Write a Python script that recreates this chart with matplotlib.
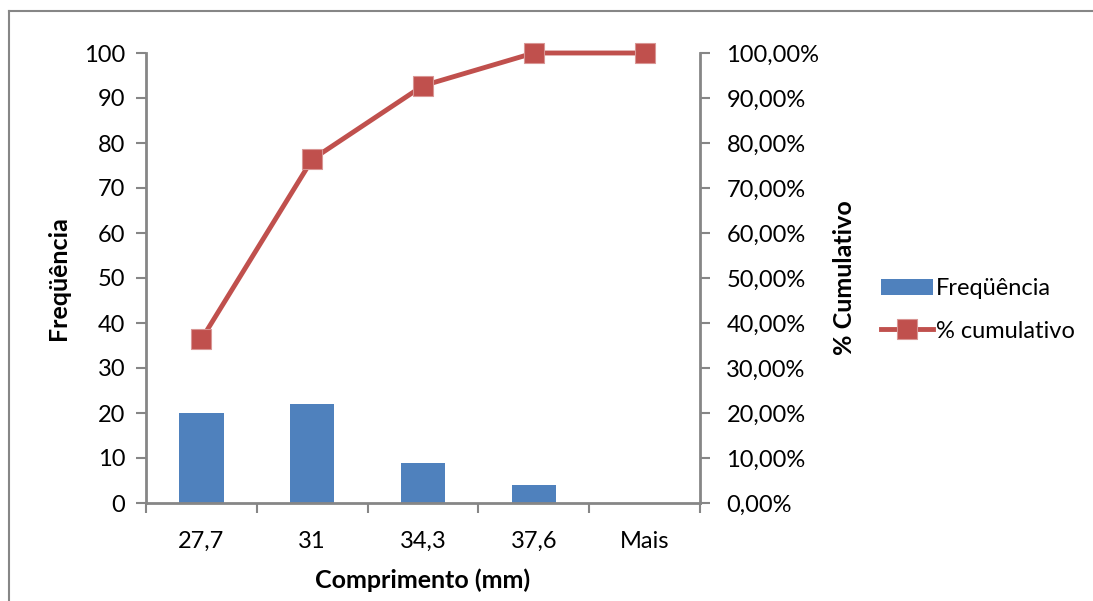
import matplotlib.pyplot as plt
from matplotlib.lines import Line2D
from matplotlib.ticker import FixedLocator, FuncFormatter
import numpy as np

plt.rcParams['font.family'] = ['Lato', 'DejaVu Sans']

# histogram bins and counts
bins = ['27,7', '31', '34,3', '37,6', 'Mais']
freq = [20, 22, 9, 4, 0]
cum_pct = [36.36, 76.36, 92.73, 100.0, 100.0]

bar_color = '#4F81BD'
line_color = '#C0504D'
axis_gray = '#868686'

fig = plt.figure(figsize=(10.93, 6.01), dpi=100)
ax = fig.add_axes([146 / 1093, 98 / 601, 554 / 1093, 450 / 601])
ax2 = ax.twinx()

x = np.arange(len(bins))
bars = ax.bar(x, freq, width=0.4, color=bar_color, label='Freqüência', zorder=2)
line, = ax2.plot(x, cum_pct, color=line_color, lw=3.5, marker='s', markersize=14,
                 markerfacecolor=line_color, markeredgecolor='#D99694',
                 markeredgewidth=0.8, label='% cumulativo', zorder=3, clip_on=False)

ax.set_xlim(-0.5, len(bins) - 0.5)
ax.set_ylim(0, 100)
ax2.set_ylim(0, 100)
ax.set_yticks(range(0, 101, 10))
ax2.set_yticks(range(0, 101, 10))
ax2.yaxis.set_major_formatter(FuncFormatter(lambda v, p: f'{v:.2f}%'.replace('.', ',')))

ax.set_xticks(x)
ax.set_xticklabels(bins)
ax.xaxis.set_minor_locator(FixedLocator(np.arange(-0.5, len(bins), 1.0)))
ax.tick_params(axis='x', which='major', length=0, pad=20, labelsize=17)
ax.tick_params(axis='x', which='minor', length=7, width=1.5, color=axis_gray, direction='out')
ax.tick_params(axis='y', length=7, width=1.5, color=axis_gray, pad=8, labelsize=17)
ax2.tick_params(axis='y', length=7, width=1.5, color=axis_gray, pad=12, labelsize=17)

for a in (ax, ax2):
    a.spines['top'].set_visible(False)
    for side in ('left', 'right', 'bottom'):
        a.spines[side].set_color(axis_gray)
        a.spines[side].set_linewidth(2)
ax2.spines['left'].set_visible(False)
ax2.spines['bottom'].set_visible(False)
ax.spines['right'].set_visible(False)

ax.set_xlabel('Comprimento (mm)', fontsize=18, fontweight='bold', labelpad=12)
ax.set_ylabel('Freqüência', fontsize=18, fontweight='bold', labelpad=10)
ax2.set_ylabel('% Cumulativo', fontsize=18, fontweight='bold', labelpad=10)

fig.legend(handles=[bars, line], loc='center left', bbox_to_anchor=(872 / 1093, 0.484),
           frameon=False, fontsize=17, handlelength=2.2, handletextpad=0.1,
           labelspacing=0.9, borderaxespad=0)

# outer chart frame
fig.add_artist(Line2D([9 / 1093, 9 / 1093], [0, 1 - 11 / 601], transform=fig.transFigure,
                      color=axis_gray, lw=1.5))
fig.add_artist(Line2D([9 / 1093, 1], [1 - 11 / 601, 1 - 11 / 601], transform=fig.transFigure,
                      color=axis_gray, lw=1.5))

fig.savefig('out.png', dpi=100)
